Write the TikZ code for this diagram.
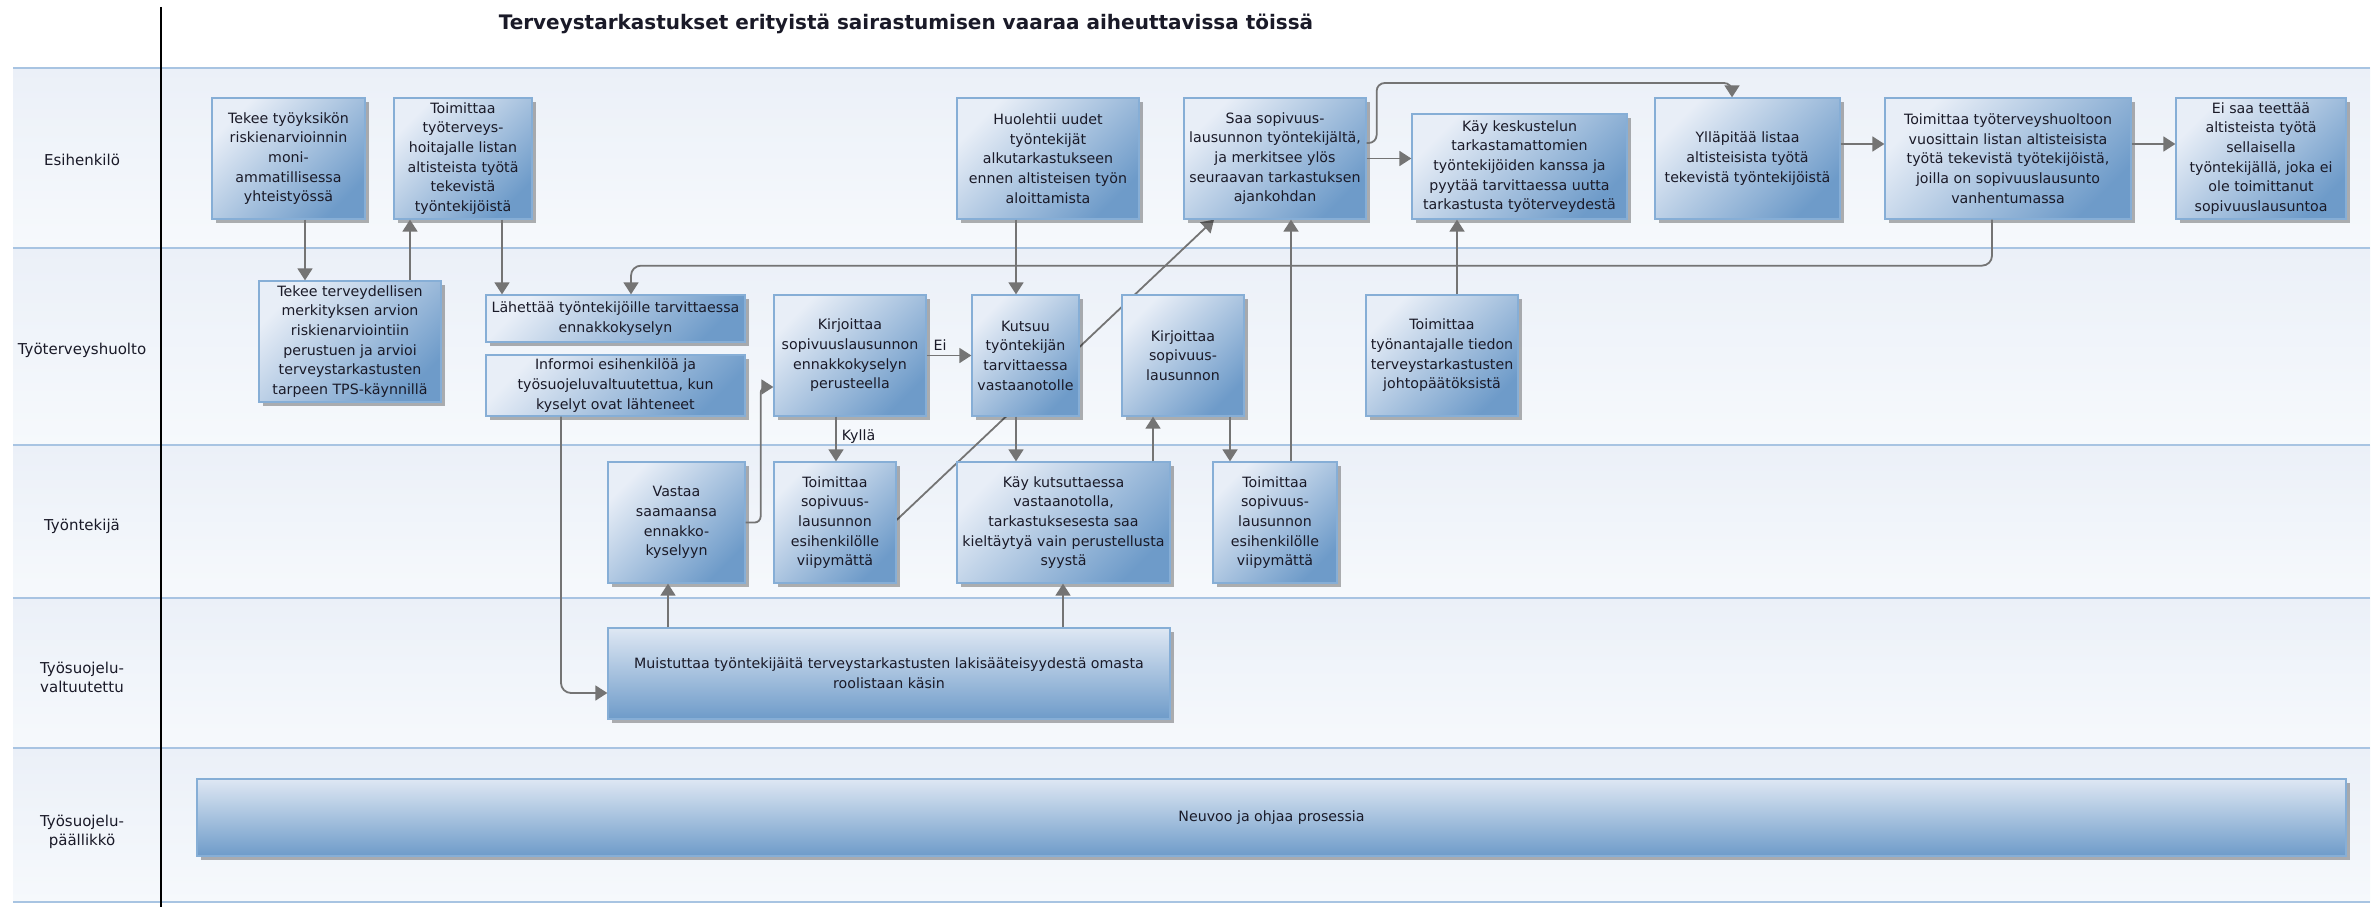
\documentclass[tikz,border=0pt]{standalone}
\usepackage{fontspec}
\setmainfont{DejaVu Sans}
\usetikzlibrary{arrows.meta,shadows,calc}
\definecolor{boxlight}{HTML}{E8EEF7}
\definecolor{boxdark}{HTML}{6E9BC9}
\definecolor{boxborder}{HTML}{86AED6}
\definecolor{lanetop}{HTML}{EBF0F8}
\definecolor{lanebot}{HTML}{F6F9FC}
\definecolor{laneline}{HTML}{A8C4E2}
\definecolor{arrgray}{HTML}{747474}
\definecolor{txt}{HTML}{1A1A28}
\pgfdeclarelayer{lanes}
\pgfdeclarelayer{edges}
\pgfsetlayers{lanes,edges,main}
\begin{document}
\begin{tikzpicture}[x=1pt,y=-1pt,
  box/.style={draw=boxborder, line width=1.3pt, top color=boxlight, bottom color=boxdark,
    shading angle=45,
    drop shadow={shadow xshift=4pt, shadow yshift=-4pt, fill=black, opacity=0.3},
    align=center, inner sep=2pt, font=\fontsize{14.2}{19.7}\selectfont, text=txt},
  widebox/.style={box, shading angle=8, top color=boxlight!92!boxdark, bottom color=boxdark},
  lanelabel/.style={font=\fontsize{15}{19}\selectfont, text=txt, align=center},
  lbl/.style={font=\fontsize{14.2}{17}\selectfont, text=txt, inner sep=1pt},
  arr/.style={draw=arrgray, line width=1.8pt, -{Triangle[length=12pt,width=15pt]}}]
\useasboundingbox (0,0) rectangle (2379,907);

% lanes
\begin{pgfonlayer}{lanes}
\fill[white] (0,0) rectangle (2379,907);
\shade[top color=lanetop, bottom color=lanebot] (13,68) rectangle (2370,248);
\shade[top color=lanetop, bottom color=lanebot] (13,248) rectangle (2370,445);
\shade[top color=lanetop, bottom color=lanebot] (13,445) rectangle (2370,598);
\shade[top color=lanetop, bottom color=lanebot] (13,598) rectangle (2370,748);
\shade[top color=lanetop, bottom color=lanebot] (13,748) rectangle (2370,902);
\foreach \yy in {68,248,445,598,748,902}
  \draw[laneline, line width=2.5pt] (13,\yy) -- (2370,\yy);
\draw[black, line width=2pt] (161,7) -- (161,907);
\end{pgfonlayer}

% title and lane labels
\node[font=\bfseries\fontsize{20}{23}\selectfont, text=txt] (title) at (906,24)
  {Terveystarkastukset erityistä sairastumisen vaaraa aiheuttavissa töissä};
\node[lanelabel] (l1) at (82,160) {Esihenkilö};
\node[lanelabel] (l2) at (82,350) {Työterveyshuolto};
\node[lanelabel] (l3) at (82,526) {Työntekijä};
\node[lanelabel] (l4) at (82,677) {Työsuojelu-\\valtuutettu};
\node[lanelabel] (l5) at (82,832) {Työsuojelu-\\päällikkö};

% Esihenkilö
\node[box, minimum width=153pt, minimum height=121pt] (A) at (288.5,158.5)
  {Tekee työyksikön\\riskienarvioinnin\\moni-\\ammatillisessa\\yhteistyössä};
\node[box, minimum width=138pt, minimum height=121pt] (B) at (463,158.5)
  {Toimittaa\\työterveys-\\hoitajalle listan\\altisteista työtä\\tekevistä\\työntekijöistä};
\node[box, minimum width=182pt, minimum height=121pt] (F) at (1048,158.5)
  {Huolehtii uudet\\työntekijät\\alkutarkastukseen\\ennen altisteisen työn\\aloittamista};
\node[box, minimum width=182pt, minimum height=121pt] (G) at (1275,158.5)
  {Saa sopivuus-\\lausunnon työntekijältä,\\ja merkitsee ylös\\seuraavan tarkastuksen\\ajankohdan};
\node[box, minimum width=215pt, minimum height=105pt] (H) at (1519.5,166.5)
  {Käy keskustelun\\tarkastamattomien\\työntekijöiden kanssa ja\\pyytää tarvittaessa uutta\\tarkastusta työterveydestä};
\node[box, minimum width=185pt, minimum height=121pt] (Y) at (1747.5,158.5)
  {Ylläpitää listaa\\altisteisista työtä\\tekevistä työntekijöistä};
\node[box, minimum width=246pt, minimum height=121pt] (T) at (2008,158.5)
  {Toimittaa työterveyshuoltoon\\vuosittain listan altisteisista\\työtä tekevistä työtekijöistä,\\joilla on sopivuuslausunto\\vanhentumassa};
\node[box, minimum width=170pt, minimum height=121pt] (Ei) at (2261,158.5)
  {Ei saa teettää\\altisteista työtä\\sellaisella\\työntekijällä, joka ei\\ole toimittanut\\sopivuuslausuntoa};

% Työterveyshuolto
\node[box, minimum width=182pt, minimum height=121pt] (C) at (350,341.5)
  {Tekee terveydellisen\\merkityksen arvion\\riskienarviointiin\\perustuen ja arvioi\\terveystarkastusten\\tarpeen TPS-käynnillä};
\node[box, minimum width=259pt, minimum height=47pt] (D) at (615.5,318.5)
  {Lähettää työntekijöille tarvittaessa\\ennakkokyselyn};
\node[box, minimum width=259pt, minimum height=61pt] (E) at (615.5,385.5)
  {Informoi esihenkilöä ja\\työsuojeluvaltuutettua, kun\\kyselyt ovat lähteneet};
\node[box, minimum width=152pt, minimum height=121pt] (K) at (850,355.5)
  {Kirjoittaa\\sopivuuslausunnon\\ennakkokyselyn\\perusteella};
\node[box, minimum width=107pt, minimum height=121pt] (Ku) at (1025.5,355.5)
  {Kutsuu\\työntekijän\\tarvittaessa\\vastaanotolle};
\node[box, minimum width=122pt, minimum height=121pt] (L) at (1183,355.5)
  {Kirjoittaa\\sopivuus-\\lausunnon};
\node[box, minimum width=152pt, minimum height=121pt] (I) at (1442,355.5)
  {Toimittaa\\työnantajalle tiedon\\terveystarkastusten\\johtopäätöksistä};

% Työntekijä
\node[box, minimum width=137pt, minimum height=121pt] (V) at (676.5,522.5)
  {Vastaa\\saamaansa\\ennakko-\\kyselyyn};
\node[box, minimum width=122pt, minimum height=121pt] (J1) at (835,522.5)
  {Toimittaa\\sopivuus-\\lausunnon\\esihenkilölle\\viipymättä};
\node[box, minimum width=213pt, minimum height=121pt] (M) at (1063.5,522.5)
  {Käy kutsuttaessa\\vastaanotolla,\\tarkastuksesesta saa\\kieltäytyä vain perustellusta\\syystä};
\node[box, minimum width=124pt, minimum height=121pt] (J2) at (1275,522.5)
  {Toimittaa\\sopivuus-\\lausunnon\\esihenkilölle\\viipymättä};

% Työsuojeluvaltuutettu / päällikkö
\node[widebox, minimum width=562pt, minimum height=91pt] (Mu) at (889,673.5)
  {Muistuttaa työntekijäitä terveystarkastusten lakisääteisyydestä omasta\\roolistaan käsin};
\node[widebox, shading angle=0, minimum width=2149pt, minimum height=77pt] (N) at (1271.5,817.5)
  {Neuvoo ja ohjaa prosessia};

% connectors
\begin{pgfonlayer}{edges}
\draw[arr] ([yshift=2.5pt]J1.east) -- ([xshift=-61pt]G.south);
\end{pgfonlayer}
\draw[arr] ([xshift=16.5pt]A.south) -- ([xshift=16.5pt]A.south |- C.north);
\draw[arr] ([xshift=60pt]C.north) -- ([xshift=60pt]C.north |- B.south);
\draw[arr] ([xshift=39pt]B.south) -- ([xshift=39pt]B.south |- D.north);
\draw[arr, rounded corners=10pt] ([xshift=-16pt]T.south) -- ++(0,46) -| ([xshift=15.5pt]D.north);
\draw[arr] ([xshift=-32pt]F.south) -- ([xshift=-32pt]F.south |- Ku.north);
\draw[arr] (G.east) -- (G.east -| H.west);
\draw[arr, rounded corners=8pt] ([yshift=15.5pt]G.east) -- ++(10,0) -- ++(0,-60) -| ([xshift=-15.5pt]Y.north);
\draw[arr] ([yshift=14.5pt]Y.east) -- ([yshift=14.5pt]Y.east -| T.west);
\draw[arr] ([yshift=14.5pt]T.east) -- ([yshift=14.5pt]T.east -| Ei.west);
\draw[arr] ([xshift=15pt]I.north) -- ([xshift=15pt]I.north |- H.south);
\draw[arr] ([xshift=16pt]J2.north) -- ([xshift=16pt]J2.north |- G.south);
\draw[arr] (K.east) -- node[lbl, above=3pt, pos=0.3] (ei) {Ei} (K.east -| Ku.west);
\draw[arr] ([xshift=-14pt]K.south) -- node[lbl, right=4pt, pos=0.45] (kylla) {Kyllä} ([xshift=-14pt]K.south |- J1.north);
\draw[arr] ([xshift=-9.5pt]Ku.south) -- ([xshift=-9.5pt]Ku.south |- M.north);
\draw[arr] ([xshift=89.5pt]M.north) -- ([xshift=89.5pt]M.north |- L.south);
\draw[arr] ([xshift=47pt]L.south) -- ([xshift=47pt]L.south |- J2.north);
\draw[arr] ([xshift=-221pt]Mu.north) -- ([xshift=-221pt]Mu.north |- V.south);
\draw[arr] ([xshift=174pt]Mu.north) -- ([xshift=174pt]Mu.north |- M.south);
\draw[arr, rounded corners=10pt] ([xshift=-54.5pt]E.south) |- ([yshift=-19.5pt]Mu.west);
\draw[arr, rounded corners=6pt] (V.east) -- ++(15,0) |- ([yshift=-31.5pt]K.west);
\end{tikzpicture}
\end{document}
